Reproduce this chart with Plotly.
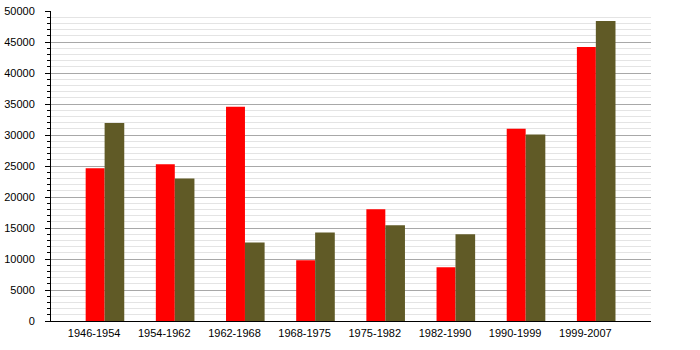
import plotly.graph_objects as go

categories = ["1946-1954", "1954-1962", "1962-1968", "1968-1975",
              "1975-1982", "1982-1990", "1990-1999", "1999-2007"]
series_red = [24650, 25300, 34550, 9800, 18030, 8670, 31000, 44190]
series_olive = [31920, 22990, 12660, 14270, 15450, 14000, 30090, 48390]
y_ticks = [0, 5000, 10000, 15000, 20000, 25000, 30000, 35000, 40000, 45000, 50000]
y_tick_labels = [str(v) for v in y_ticks]

xpos = list(range(len(categories)))

fig = go.Figure()
fig.add_trace(go.Bar(x=xpos, y=series_red, offset=-0.12, width=0.27,
                     marker=dict(color="#ff0000", line=dict(width=0)), showlegend=False))
fig.add_trace(go.Bar(x=xpos, y=series_olive, offset=0.15, width=0.28,
                     marker=dict(color="#605a26", line=dict(width=0)), showlegend=False))

fig.update_layout(
    width=700, height=350,
    margin=dict(l=51, r=49, t=11, b=29, pad=0, autoexpand=False),
    paper_bgcolor="white", plot_bgcolor="white",
    barmode="overlay",
    font=dict(family="Liberation Sans, Arial, sans-serif", size=11, color="black"),
    xaxis=dict(
        range=[-0.614, 7.936], tickmode="array", tickvals=xpos, ticktext=categories,
        showgrid=False, zeroline=False, showline=True, linecolor="black", linewidth=1,
        ticks="", ticklabelstandoff=2, tickfont=dict(size=11), automargin=False,
    ),
    yaxis=dict(
        range=[0, 50000], tickmode="array", tickvals=y_ticks, ticktext=y_tick_labels,
        showgrid=True, gridcolor="#a8a8a8", gridwidth=1, zeroline=False,
        showline=True, linecolor="black", linewidth=1,
        ticks="outside", ticklen=5, tickcolor="black", tickwidth=1,
        ticklabelstandoff=8, tickfont=dict(size=11), automargin=False,
        minor=dict(dtick=1000, ticks="outside", ticklen=3, tickcolor="black",
                   showgrid=True, gridcolor="#e4e4e4", gridwidth=1),
    ),
)

fig.write_html("out.html")
